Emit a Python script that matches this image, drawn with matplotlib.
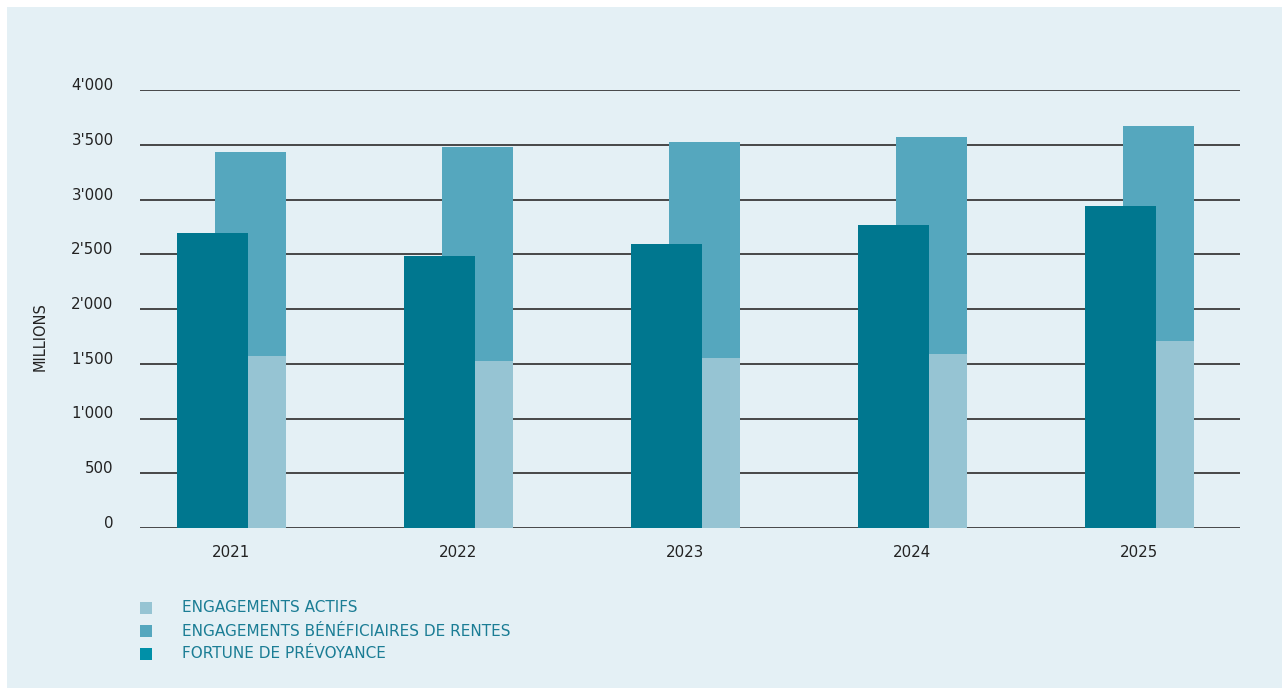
import matplotlib.pyplot as plt
import matplotlib.patches as mpatches
import numpy as np

plt.rcParams['font.family'] = ['DejaVu Sans']

years = ['2021', '2022', '2023', '2024', '2025']
fortune = [2694, 2484, 2594, 2767, 2941]
engagements_actifs = [1571, 1525, 1553, 1589, 1708]
engagements_rentes = [1863, 1954, 1972, 1982, 1963]

yticks = [0, 500, 1000, 1500, 2000, 2500, 3000, 3500, 4000]
ytick_labels = ['0', '500', "1'000", "1'500", "2'000", "2'500", "3'000", "3'500", "4'000"]

legend_labels = ['ENGAGEMENTS ACTIFS',
                 'ENGAGEMENTS BÉNÉFICIAIRES DE RENTES',
                 'FORTUNE DE PRÉVOYANCE']

c_dark = '#00778f'
c_mid = '#55a7be'
c_light = '#96c4d3'
c_legend_dark = '#0090a8'
c_bg = '#e4f0f5'
c_text = '#1b7d95'

W, H = 1282, 688
fig = plt.figure(figsize=(W / 100, H / 100), dpi=100)
fig.patch.set_facecolor('white')

# light panel behind everything
fig.add_artist(mpatches.Rectangle((7 / W, 0), 1 - 7 / W, 1 - 7 / H,
                                  transform=fig.transFigure,
                                  facecolor=c_bg, edgecolor='none', zorder=0))

ax = fig.add_axes([140 / W, (H - 528) / H, 1100 / W, 438 / H])
ax.set_facecolor('none')

x = np.arange(len(years))
w = 0.313
off = 0.0837

ax.bar(x + off, engagements_actifs, width=w, color=c_light, zorder=3)
ax.bar(x + off, engagements_rentes, width=w, bottom=engagements_actifs,
       color=c_mid, zorder=3)
ax.bar(x - off, fortune, width=w, color=c_dark, zorder=4)

ax.set_xlim(-0.403, 4.443)
ax.set_ylim(0, 4000)

for v in yticks:
    ax.axhline(v, color='#3a3a3a', lw=1.3, zorder=2)

ax.set_yticks(yticks)
ax.set_yticklabels(ytick_labels, va='baseline')
ax.set_xticks(x)
ax.set_xticklabels(years)
ax.tick_params(axis='both', length=0, labelsize=10.8, labelcolor='#222222')
ax.tick_params(axis='y', pad=19)
ax.tick_params(axis='x', pad=12)
for s in ax.spines.values():
    s.set_visible(False)

fig.text(40 / W, 1 - 337 / H, 'MILLIONS', rotation=90, ha='center', va='center',
         fontsize=10.5, color='#222222')

# legend
leg_colors = [c_light, c_mid, c_legend_dark]
for i, (lab, col) in enumerate(zip(legend_labels, leg_colors)):
    yc = 608 + 23 * i
    fig.add_artist(mpatches.Rectangle((140 / W, 1 - (yc + 6) / H), 12 / W, 12 / H,
                                      transform=fig.transFigure,
                                      facecolor=col, edgecolor='none'))
    fig.text(182 / W, 1 - yc / H, lab, ha='left', va='center',
             fontsize=11, color=c_text)

fig.savefig('out.png', dpi=100)
